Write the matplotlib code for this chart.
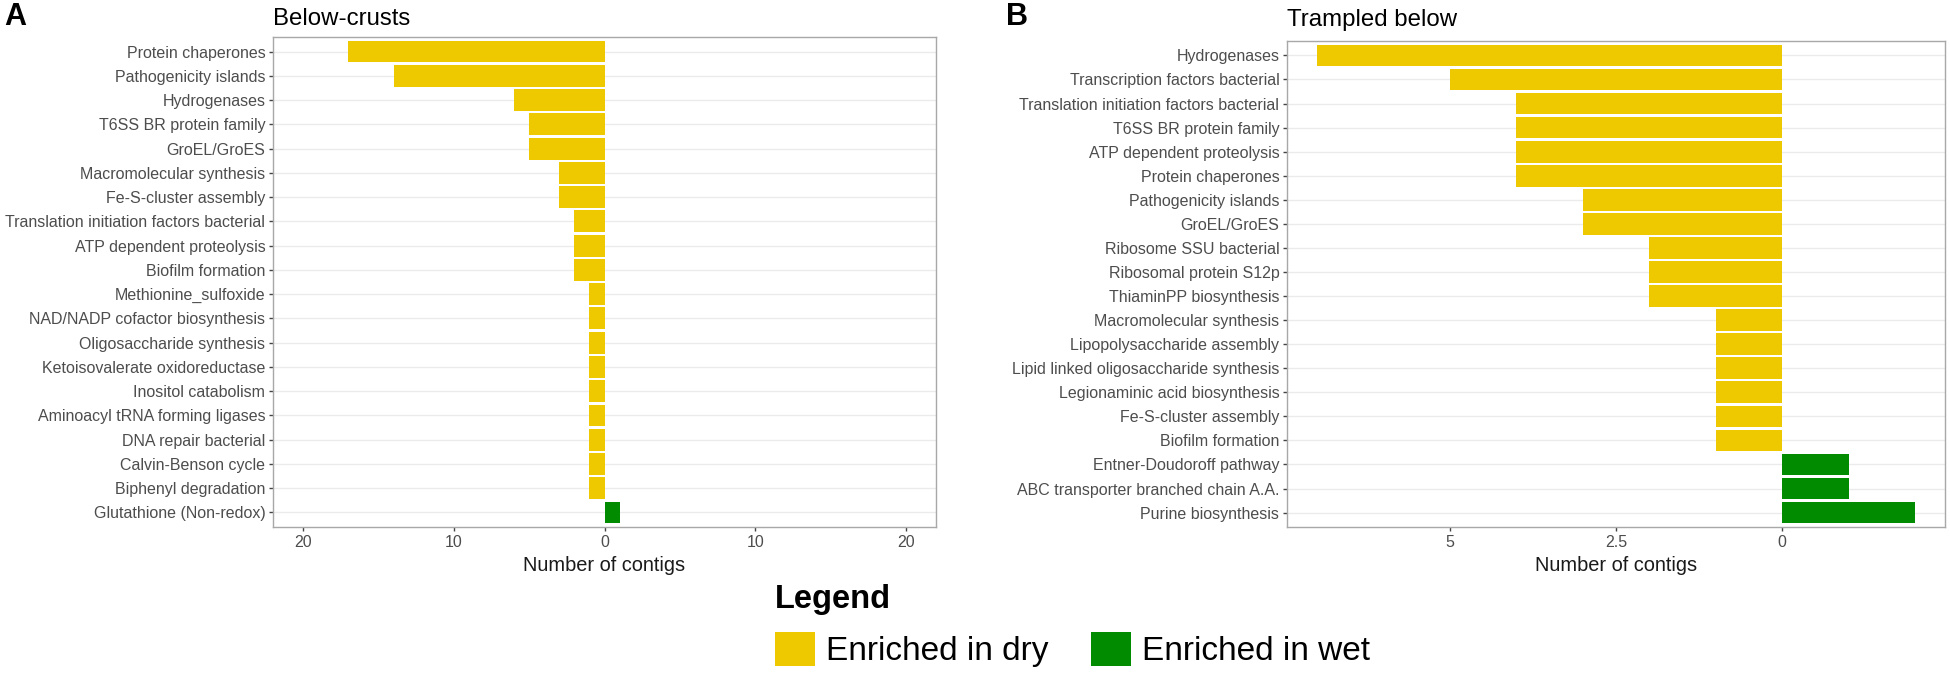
import matplotlib
matplotlib.use("Agg")
import matplotlib.pyplot as plt
from matplotlib.patches import Patch
import numpy as np

plt.rcParams['font.family'] = ['Liberation Sans', 'DejaVu Sans']

# panel A: below-crusts
cats_a = ["Protein chaperones", "Pathogenicity islands", "Hydrogenases",
          "T6SS BR protein family", "GroEL/GroES", "Macromolecular synthesis",
          "Fe-S-cluster assembly", "Translation initiation factors bacterial",
          "ATP dependent proteolysis", "Biofilm formation", "Methionine_sulfoxide",
          "NAD/NADP cofactor biosynthesis", "Oligosaccharide synthesis",
          "Ketoisovalerate oxidoreductase", "Inositol catabolism",
          "Aminoacyl tRNA forming ligases", "DNA repair bacterial",
          "Calvin-Benson cycle", "Biphenyl degradation", "Glutathione (Non-redox)"]
# negative = enriched in dry, positive = enriched in wet
vals_a = [-17, -14, -6, -5, -5, -3, -3, -2, -2, -2, -1, -1, -1, -1, -1, -1, -1, -1, -1, 1]

# panel B: trampled below
cats_b = ["Hydrogenases", "Transcription factors bacterial",
          "Translation initiation factors bacterial", "T6SS BR protein family",
          "ATP dependent proteolysis", "Protein chaperones", "Pathogenicity islands",
          "GroEL/GroES", "Ribosome SSU bacterial", "Ribosomal protein S12p",
          "ThiaminPP biosynthesis", "Macromolecular synthesis",
          "Lipopolysaccharide assembly", "Lipid linked oligosaccharide synthesis",
          "Legionaminic acid biosynthesis", "Fe-S-cluster assembly",
          "Biofilm formation", "Entner-Doudoroff pathway",
          "ABC transporter branched chain A.A.", "Purine biosynthesis"]
vals_b = [-7, -5, -4, -4, -4, -4, -3, -3, -2, -2, -2, -1, -1, -1, -1, -1, -1, 1, 1, 2]

ticks_a = [-20, -10, 0, 10, 20]
ticks_b = [-5, -2.5, 0]

DRY = "#EEC900"
WET = "#008B00"
W, H = 1950, 683

fig = plt.figure(figsize=(W / 100, H / 100), dpi=100)


def panel(rect, cats, vals, xlim, ticks, title, title_pad):
    l, r, t, b = rect
    ax = fig.add_axes([l / W, 1 - b / H, (r - l) / W, (b - t) / H])
    y = np.arange(len(cats))
    colors = [WET if v > 0 else DRY for v in vals]
    ax.barh(y, vals, height=0.9, color=colors, zorder=2)
    ax.set_ylim(len(cats) - 0.4, -0.6)
    ax.set_xlim(*xlim)
    ax.set_yticks(y)
    ax.set_yticklabels(cats)
    ax.set_xticks(ticks)
    ax.set_xticklabels([f"{abs(t):g}" for t in ticks])
    ax.grid(axis='y', color='#EBEBEB', linewidth=1.0, zorder=0)
    ax.set_axisbelow(True)
    for s in ax.spines.values():
        s.set_color('#A8A8A8')
        s.set_linewidth(1.0)
    ax.tick_params(axis='both', length=3, width=1.0, color='#444444',
                   labelsize=11.5, labelcolor='#4D4D4D')
    ax.tick_params(axis='y', pad=2.5)
    ax.tick_params(axis='x', pad=3)
    ax.set_xlabel("Number of contigs", fontsize=14.4, color='#1A1A1A', labelpad=4)
    ax.set_title(title, loc='left', fontsize=17.3, pad=title_pad)
    return ax


panel((273, 936, 37, 527), cats_a, vals_a, (-22, 22), ticks_a, "Below-crusts", 8.6)
panel((1287, 1945, 41, 527), cats_b, vals_b, (-7.45, 2.45), ticks_b, "Trampled below", 11)

fig.text(4 / W, 1 - 25 / H, "A", fontsize=22, fontweight='bold', va='baseline')
fig.text(1006 / W, 1 - 25 / H, "B", fontsize=22, fontweight='bold', va='baseline')

handles = [Patch(facecolor=DRY, label="Enriched in dry"),
           Patch(facecolor=WET, label="Enriched in wet")]
leg = fig.legend(handles=handles, loc='upper left',
                 bbox_to_anchor=(775 / W, 1 - 584 / H), ncol=2, frameon=False,
                 title="Legend", alignment='left', fontsize=24,
                 title_fontproperties={'weight': 'bold', 'size': 23.5},
                 handlelength=1.2, handleheight=1.2, handletextpad=0.33,
                 columnspacing=1.26, borderpad=0, borderaxespad=0)

fig.savefig("out.png", dpi=100)
